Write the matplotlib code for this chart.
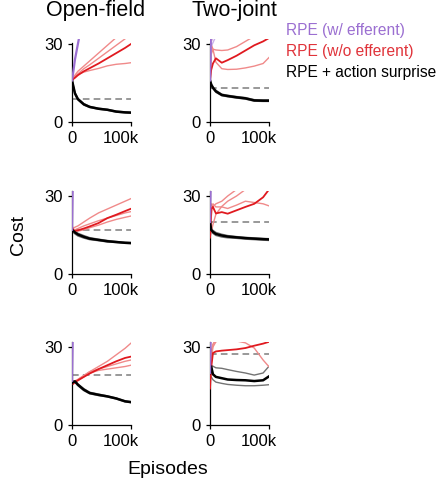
import matplotlib
matplotlib.use("Agg")
import matplotlib.pyplot as plt
import matplotlib.transforms as mtransforms

plt.rcParams['font.family'] = ['Liberation Sans', 'DejaVu Sans']

# x grid shared by every curve, in thousands of episodes
EPISODES_K = [0, 2, 5, 10, 20, 30, 45, 60, 75, 90, 100]

# open-field, top row
OF1_PURPLE = [16, 19, 24, 30, 42, 55, 70, 80, 90, 100, 110]
OF1_RED = [16, 16.5, 17, 18, 19.5, 20.7, 22.5, 24.5, 26.5, 28.5, 30]
OF1_RED_RUNS = [
    [16, 16.8, 17.5, 18.3, 19.2, 19.8, 20.6, 21.6, 22.2, 22.5, 22.8],
    [16, 17, 18, 19.5, 21.5, 23.5, 26.5, 29.5, 32.5, 35, 37],
    [16, 16.5, 17.5, 18.5, 20.5, 22, 24.5, 27, 29.5, 32, 34],
]
OF1_BLACK = [16, 14, 11, 8.8, 6.8, 5.8, 5.1, 4.7, 4.0, 3.7, 3.6]
OF1_BLACK_RUNS = [
    [16, 14.3, 11.4, 9.1, 7.1, 6.0, 5.3, 4.9, 4.2, 3.9, 3.8],
    [15.8, 13.7, 10.7, 8.5, 6.5, 5.6, 4.9, 4.5, 3.8, 3.5, 3.4],
]
OF1_BASELINE = 8.8

# two-joint, top row
TJ1_PURPLE = [16, 40, 60, 80, 100, 110, 120, 130, 140, 150, 160]
TJ1_PURPLE_RUNS = [
    [16, 29, 30.5, 33, 40, 50, 60, 70, 80, 90, 100],
    [16, 31, 32.5, 36, 45, 55, 65, 75, 85, 95, 105],
]
TJ1_RED = [16, 20, 22.5, 24.5, 22.8, 23.8, 25.5, 27.5, 29.5, 31, 32.3]
TJ1_RED_RUNS = [
    [16, 26, 28, 23, 20.5, 20.2, 20.3, 20.8, 21.5, 22.5, 24.8],
    [16, 30, 28, 27.7, 27.5, 27.7, 29, 31, 33, 35, 36],
    [16, 31, 33, 35, 37, 39, 41, 43, 45, 47, 49],
]
TJ1_BLACK = [16, 14.5, 13.2, 11.8, 10.4, 10.0, 9.5, 9.1, 8.3, 8.2, 8.2]
TJ1_BLACK_RUNS = [
    [14.5, 14, 13.5, 12.2, 10.7, 10.3, 9.8, 9.4, 8.6, 8.5, 8.5],
    [13.5, 13.3, 12.8, 11.4, 10.1, 9.7, 9.2, 8.8, 8.0, 7.9, 7.9],
]
TJ1_BASELINE = 13

# open-field, middle row
OF2_PURPLE = [17, 45, 60, 80, 100, 110, 120, 130, 140, 150, 160]
OF2_RED = [18, 16.8, 16.6, 16.8, 17.5, 18.3, 19.6, 21.5, 22.8, 24.2, 25.1]
OF2_RED_RUNS = [
    [17, 17.5, 18, 18.5, 20, 21.5, 23.5, 25, 26.5, 28, 29],
    [16, 16, 16.5, 16.5, 17, 17.8, 18.8, 20, 21, 21.8, 22.3],
    [19, 17, 17, 17.5, 18.5, 19.3, 20.5, 21.5, 22.5, 23.5, 24],
]
OF2_BLACK = [17, 16.6, 16, 15.2, 14.3, 13.6, 13.1, 12.6, 12.3, 12.0, 11.9]
OF2_BLACK_RUNS = [
    [17.5, 17.1, 16.5, 15.7, 14.8, 14.0, 13.4, 12.9, 12.5, 12.2, 12.1],
    [16.5, 16.0, 15.4, 14.6, 13.8, 13.2, 12.8, 12.3, 12.1, 11.8, 11.7],
]
OF2_BASELINE = 17

# two-joint, middle row
TJ2_PURPLE = [20, 45, 60, 80, 100, 110, 120, 130, 140, 150, 160]
TJ2_RED = [14, 25, 25.8, 23.3, 23.8, 23.2, 24.5, 25.8, 27, 29.5, 32.5]
TJ2_RED_RUNS = [
    [15, 22, 27, 25.8, 25.8, 25.2, 26.5, 28, 27.5, 27, 26.2],
    [14, 16, 19, 23, 26, 28, 30, 32.5, 34, 36, 38],
    [15, 27, 26, 27, 28, 30, 32.5, 35, 37, 39, 41],
]
TJ2_BLACK = [20, 17, 16.2, 15.4, 14.8, 14.4, 14.1, 13.8, 13.6, 13.4, 13.3]
TJ2_BLACK_RUNS = [
    [20, 17.6, 16.8, 16.0, 15.3, 14.8, 14.4, 14.1, 13.9, 13.7, 13.6],
    [19, 16.4, 15.6, 14.8, 14.2, 13.9, 13.7, 13.4, 13.2, 13.0, 12.9],
]
TJ2_BASELINE = 20

# open-field, bottom row
OF3_PURPLE = [17, 45, 60, 80, 100, 110, 120, 130, 140, 150, 160]
OF3_RED = [16.2, 15.8, 16.5, 17.2, 18.5, 19.8, 21.5, 23, 24.5, 25.8, 26.3]
OF3_RED_RUNS = [
    [16, 16, 17, 17.5, 19, 20.5, 22.5, 24.5, 27, 29.5, 31.5],
    [15.5, 16, 16.5, 17.5, 19, 20.5, 21.5, 22.5, 23.5, 24.5, 25],
    [17, 16, 16.5, 17, 18.5, 20, 21, 21.5, 22, 22.5, 23],
]
OF3_BLACK = [16.2, 16.5, 16.8, 15.5, 13.6, 12.3, 11.6, 11.0, 10.2, 9.1, 8.8]
OF3_BLACK_RUNS = [
    [16.5, 16.8, 17.0, 15.8, 14.0, 12.6, 11.9, 11.2, 10.4, 9.3, 9.0],
    [16.0, 16.2, 16.4, 15.1, 13.2, 12.0, 11.3, 10.8, 10.0, 8.9, 8.6],
]
OF3_BASELINE = 19.3

# two-joint, bottom row
TJ3_PURPLE = [20, 45, 60, 80, 100, 110, 120, 130, 140, 150, 160]
TJ3_RED = [14, 22, 27.7, 28.3, 28.6, 28.8, 29.1, 29.6, 30.5, 31.3, 32]
TJ3_RED_RUNS = [
    [14, 25, 30, 32, 33, 33, 32.3, 31.6, 29.6, 25, 22.4],
    [15, 26, 31, 33, 35, 37, 39, 41, 43, 45, 47],
    [16, 28, 31, 32.5, 34, 36, 38, 40, 42, 44, 46],
]
TJ3_BLACK = [20, 22.5, 19.5, 18.5, 18, 17.5, 17.3, 17.2, 16.9, 17.2, 18.7]
TJ3_BLACK_RUNS = [
    [20, 23, 22.6, 22, 21.8, 21.3, 20.6, 20, 19.2, 20, 22.6],
    [18, 18.5, 17.4, 16.5, 16, 15.6, 15.3, 15.1, 15.1, 15.3, 15.5],
]
TJ3_BASELINE = 27.4

PURPLE = '#9b6fd1'
RED = '#e0191f'
LIGHT_RED = '#f08a8a'
GRAY = '#737373'

fig = plt.figure(figsize=(4.41, 4.82), dpi=100)

W, H = 441.0, 482.0
col_lefts = [72 / W, 210 / W]
row_bottoms = [1 - 122 / H, 1 - 274 / H, 1 - 425 / H]
ax_w = 59 / W
ax_h = 83.2 / H


def draw_panel(ax, purple, red, red_runs, black, black_runs, baseline,
               purple_runs=(), spine_top=32):
    ax.axhline(baseline, color='#888888', lw=1.2, ls=(0, (4, 2.5)), zorder=1)
    for run in black_runs:
        ax.plot(EPISODES_K, run, color=GRAY, lw=1.0, zorder=2)
    for run in red_runs:
        ax.plot(EPISODES_K, run, color=LIGHT_RED, lw=1.0, zorder=2)
    for run in purple_runs:
        ax.plot(EPISODES_K, run, color='#c9b0e8', lw=1.0, zorder=2)
    ax.plot(EPISODES_K, red, color=RED, lw=1.3, zorder=3)
    ax.plot(EPISODES_K, black, color='black', lw=1.8, zorder=4)
    ax.plot(EPISODES_K, purple, color=PURPLE, lw=1.6, zorder=5)

    ax.set_xlim(0, 100)
    ax.set_ylim(0, 32)
    ax.set_xticks([0, 100])
    ax.set_xticklabels(['0', '100k'])
    ax.set_yticks([0, 30])
    ax.spines['top'].set_visible(False)
    ax.spines['right'].set_visible(False)
    ax.spines['left'].set_bounds(0, spine_top)
    ax.tick_params(labelsize=12, length=3, width=0.9, pad=3.5)
    for s in ('left', 'bottom'):
        ax.spines[s].set_linewidth(0.9)
    # the "100k" label sits left of its tick in the original
    lab = ax.get_xticklabels()[1]
    offset = mtransforms.ScaledTranslation(-10 / 100, 0, fig.dpi_scale_trans)
    lab.set_transform(lab.get_transform() + offset)


panels = [
    (0, 0, dict(purple=OF1_PURPLE, red=OF1_RED, red_runs=OF1_RED_RUNS,
                black=OF1_BLACK, black_runs=OF1_BLACK_RUNS,
                baseline=OF1_BASELINE, spine_top=30.5)),
    (0, 1, dict(purple=TJ1_PURPLE, red=TJ1_RED, red_runs=TJ1_RED_RUNS,
                black=TJ1_BLACK, black_runs=TJ1_BLACK_RUNS,
                baseline=TJ1_BASELINE, purple_runs=TJ1_PURPLE_RUNS,
                spine_top=30.5)),
    (1, 0, dict(purple=OF2_PURPLE, red=OF2_RED, red_runs=OF2_RED_RUNS,
                black=OF2_BLACK, black_runs=OF2_BLACK_RUNS,
                baseline=OF2_BASELINE)),
    (1, 1, dict(purple=TJ2_PURPLE, red=TJ2_RED, red_runs=TJ2_RED_RUNS,
                black=TJ2_BLACK, black_runs=TJ2_BLACK_RUNS,
                baseline=TJ2_BASELINE)),
    (2, 0, dict(purple=OF3_PURPLE, red=OF3_RED, red_runs=OF3_RED_RUNS,
                black=OF3_BLACK, black_runs=OF3_BLACK_RUNS,
                baseline=OF3_BASELINE)),
    (2, 1, dict(purple=TJ3_PURPLE, red=TJ3_RED, red_runs=TJ3_RED_RUNS,
                black=TJ3_BLACK, black_runs=TJ3_BLACK_RUNS,
                baseline=TJ3_BASELINE)),
]

for row, col, kw in panels:
    ax = fig.add_axes([col_lefts[col], row_bottoms[row], ax_w, ax_h])
    draw_panel(ax, **kw)

fig.text(96 / W, 1 - 16 / H, 'Open-field', fontsize=15.5, ha='center', va='baseline')
fig.text(234 / W, 1 - 16 / H, 'Two-joint', fontsize=15.5, ha='center', va='baseline')

fig.text(19 / W, 1 - 235 / H, 'Cost', fontsize=14, rotation=90, ha='center', va='center')
fig.text(168 / W, 1 - 474 / H, 'Episodes', fontsize=14, ha='center', va='baseline')

legend_items = [('RPE (w/ efferent)', PURPLE), ('RPE (w/o efferent)', '#e0333a'),
                ('RPE + action surprise', 'black')]
for i, (txt, c) in enumerate(legend_items):
    fig.text(286 / W, 1 - (35 + 21 * i) / H, txt, color=c, fontsize=11.2,
             ha='left', va='baseline')

fig.savefig('out.png', dpi=100)
